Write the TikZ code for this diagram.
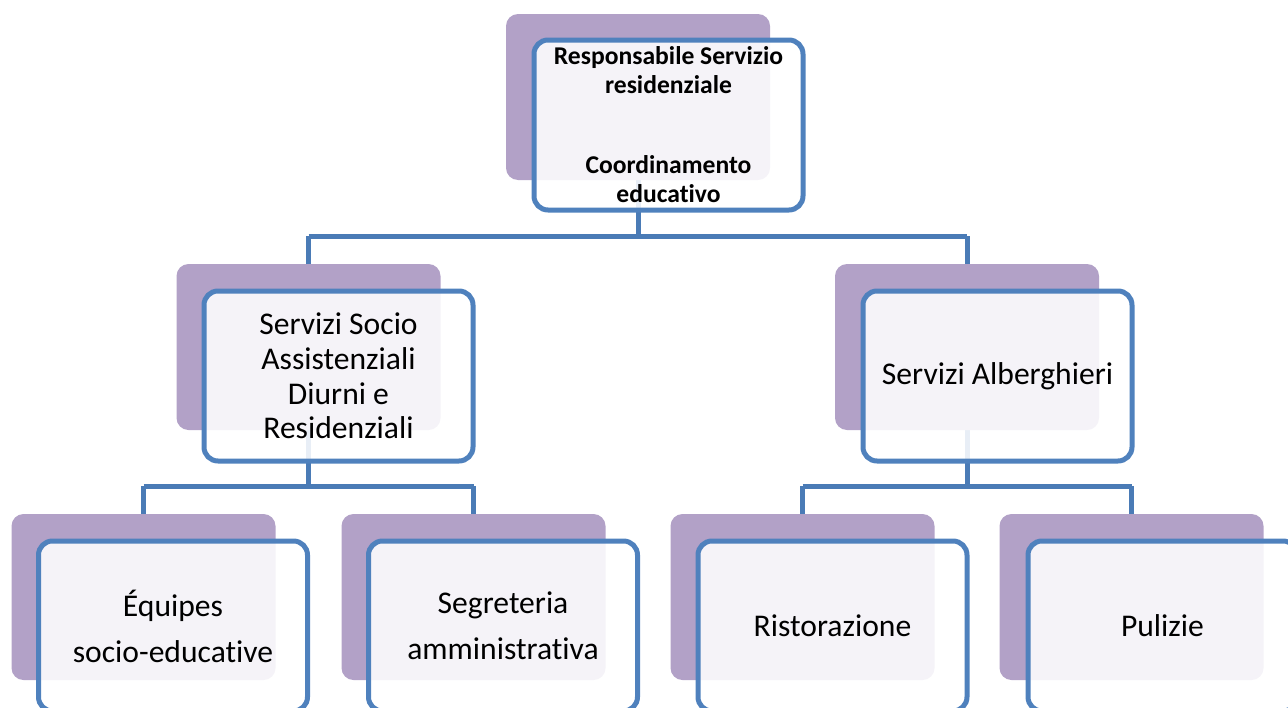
\documentclass[tikz,border=0pt]{standalone}
\usepackage{fontspec}
\setmainfont[Ligatures=NoCommon]{Carlito}
\definecolor{backpurple}{HTML}{B2A1C7}
\definecolor{frontblue}{HTML}{4F81BD}
\definecolor{linkblue}{HTML}{4A7BB6}
\tikzset{
  backbox/.style={rectangle, rounded corners=12pt, fill=backpurple, draw=none,
    minimum width=264pt, minimum height=166pt, inner sep=0pt},
  frontbox/.style={rectangle, rounded corners=14pt, fill=white, fill opacity=0.88,
    text opacity=1, draw=frontblue, line width=5pt,
    minimum width=269pt, minimum height=170pt, inner sep=0pt, align=center,
    font=\fontsize{31.6}{34.8}\selectfont},
  rootfont/.style={font=\fontsize{25.6}{29}\selectfont\bfseries},
  bottomfont/.style={font=\fontsize{31.6}{46}\selectfont},
  link/.style={draw=linkblue, line width=5pt}
}
\begin{document}
\begin{tikzpicture}[x=1pt,y=-1pt]
\useasboundingbox (0,0) rectangle (1288,707);
\clip (0,0) rectangle (1288,707);
% centres of the back boxes (connector ends)
\coordinate (cr) at (638,97);
\coordinate (cl) at (308.5,347);
\coordinate (cm) at (967,347);
\coordinate (c1) at (143.5,597);
\coordinate (c2) at (473.5,597);
\coordinate (c3) at (802.5,597);
\coordinate (c4) at (1131.5,597);
% junctions
\coordinate (jr) at (638,236);
\coordinate (jl) at (308.5,486);
\coordinate (jm) at (967,486);
% connectors
\draw[link] (cr) -- (jr);
\draw[link] (cl |- jr) -- (cm |- jr);
\draw[link] (cl |- jr) -- (cl);
\draw[link] (cm |- jr) -- (cm);
\draw[link] (cl) -- (jl);
\draw[link] (c1 |- jl) -- (c2 |- jl);
\draw[link] (c1 |- jl) -- (c1);
\draw[link] (c2 |- jl) -- (c2);
\draw[link] (cm) -- (jm);
\draw[link] (c3 |- jm) -- (c4 |- jm);
\draw[link] (c3 |- jm) -- (c3);
\draw[link] (c4 |- jm) -- (c4);
% back boxes
\node[backbox] (br) at (cr) {};
\node[backbox] (bl) at (cl) {};
\node[backbox] (bm) at (cm) {};
\node[backbox] (b1) at (c1) {};
\node[backbox] (b2) at (c2) {};
\node[backbox] (b3) at (c3) {};
\node[backbox] (b4) at (c4) {};
% front boxes
\node[frontbox, rootfont] (fr) at (668.5,125) {Responsabile Servizio\\residenziale\\[51pt]Coordinamento\\educativo};
\node[frontbox] (fl) at (338.5,376) {Servizi Socio\\Assistenziali\\Diurni e\\Residenziali};
\node[frontbox] (fm) at (997.5,376) {Servizi Alberghieri};
\node[frontbox, bottomfont] (f1) at (173,626) {Équipes\\socio-educative};
\node[frontbox, bottomfont] (f2) at (503,626) {Segreteria\\amministrativa};
\node[frontbox] (f3) at (832.5,626) {Ristorazione};
\node[frontbox] (f4) at (1162.5,626) {Pulizie};
\end{tikzpicture}
\end{document}
